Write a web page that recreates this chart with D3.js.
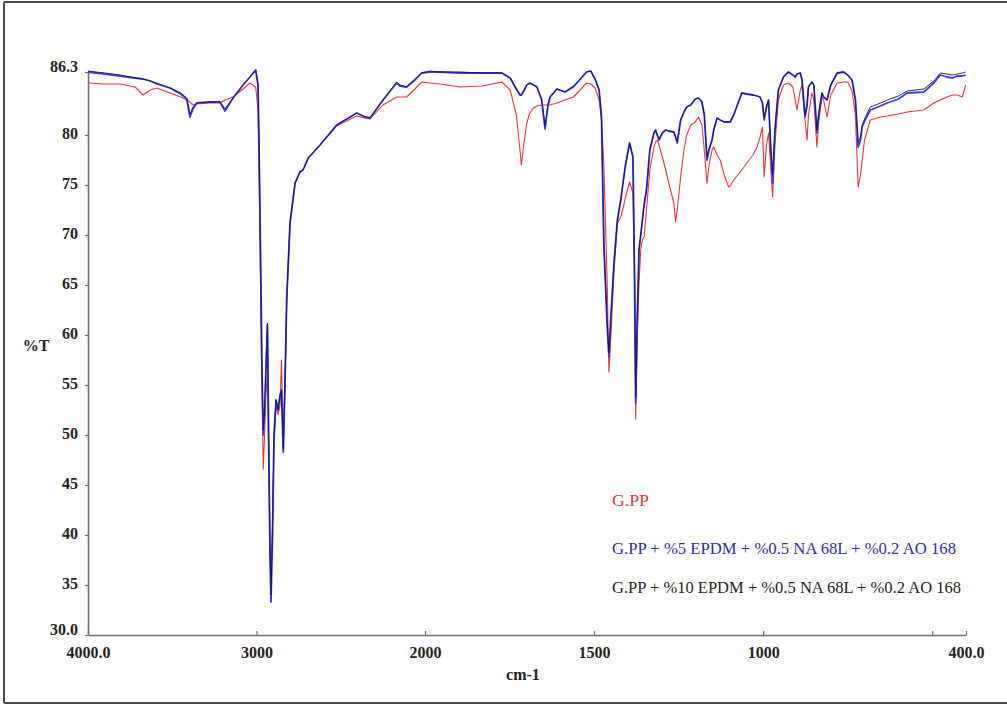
<!DOCTYPE html>
<html>
<head>
<meta charset="utf-8">
<script src="https://cdn.jsdelivr.net/npm/d3@7"></script>
<style>
  html, body { margin: 0; padding: 0; background: #fff; }
  svg { display: block; }
  .tick text { font-family: "Liberation Serif", "Times New Roman", serif; font-weight: bold; font-size: 16px; fill: #222; }
</style>
</head>
<body>
<svg id="chart" width="1007" height="704"></svg>
<script>
// FTIR transmittance spectra (wavenumber in cm-1, %T)
const wavenumbers = [
  4000, 3900, 3810, 3720, 3674, 3630, 3592, 3513, 3450, 3414, 3395, 3377, 3355, 3280, 3217, 3187, 3139, 3080, 3039, 3005,
  2991, 2984, 2976, 2968, 2960, 2952, 2945, 2935, 2928, 2920, 2914, 2905, 2896, 2884, 2872, 2860, 2852, 2841, 2831, 2821,
  2801, 2771, 2742, 2724, 2693, 2623, 2524, 2405, 2356, 2326, 2249, 2168, 2148, 2109, 2060, 2020, 1985, 1956, 1896, 1830,
  1773, 1748, 1730, 1719, 1715, 1708, 1699, 1690, 1679, 1669, 1655, 1645, 1636, 1630, 1610, 1586, 1561, 1522, 1510, 1497,
  1485, 1478, 1471, 1461, 1456, 1450, 1441, 1431, 1421, 1412, 1407, 1395, 1385, 1380, 1377, 1372, 1367, 1362, 1357, 1352,
  1345, 1335, 1323, 1318, 1313, 1308, 1298, 1288, 1279, 1264, 1259, 1254, 1244, 1234, 1226, 1214, 1201, 1191, 1181, 1174,
  1166, 1160, 1151, 1146, 1136, 1127, 1115, 1102, 1097, 1087, 1063, 1048, 1030, 1018, 1009, 1002, 997, 990, 984, 978,
  972, 965, 955, 940, 925, 912, 905, 900, 890, 885, 876, 870, 866, 856, 850, 841, 835, 826, 821, 811,
  800, 781, 762, 750, 737, 727, 719, 712, 707, 700, 683, 653, 633, 600, 574, 525, 495, 476, 456, 440,
  426, 411, 401
];

// G.PP
const gpp = [
  85.2, 85.1, 85.1, 84.8, 84.0, 84.5, 84.7, 84.2, 83.8, 83.5, 83.3, 83.0, 83.1, 83.2, 83.2, 83.5, 83.8, 84.6, 85.2, 84.8,
  82.5, 75.0, 65.0, 55.0, 46.6, 50.0, 54.0, 56.0, 48.0, 39.0, 35.5, 41.0, 49.0, 53.0, 52.0, 53.0, 57.5, 50.0, 55.0, 63.2,
  71.2, 75.2, 76.3, 76.5, 77.7, 79.0, 80.9, 81.9, 81.7, 81.6, 83.0, 83.8, 83.8, 83.8, 84.6, 85.3, 85.2, 85.1, 84.8, 84.9,
  85.3, 84.5, 82.0, 78.5, 77.0, 79.0, 81.2, 82.2, 82.7, 82.9, 83.0, 83.0, 83.0, 83.0, 83.2, 83.5, 83.8, 85.2, 85.1, 84.7,
  83.5, 81.5, 77.0, 65.0, 56.3, 60.0, 66.5, 71.2, 71.8, 73.0, 73.8, 75.3, 74.2, 65.0, 51.6, 60.0, 65.2, 68.5, 69.5, 69.8,
  72.5, 76.5, 78.8, 79.3, 79.5, 79.0, 77.8, 76.5, 75.2, 73.2, 71.3, 72.5, 75.8, 78.5, 80.0, 81.0, 81.3, 81.8, 81.0, 78.5,
  75.2, 77.0, 78.5, 78.8, 78.0, 77.5, 76.0, 74.8, 74.9, 75.5, 76.5, 77.2, 78.0, 78.8, 79.8, 80.8, 75.8, 79.0, 80.2, 77.0,
  73.8, 79.0, 83.5, 85.0, 85.2, 84.8, 83.5, 82.5, 84.5, 85.0, 81.5, 79.5, 82.0, 84.2, 83.5, 78.8, 81.5, 83.8, 83.5, 81.8,
  84.0, 85.2, 85.3, 85.3, 84.4, 82.0, 74.8, 76.0, 77.5, 79.5, 81.5, 81.8, 81.9, 82.1, 82.3, 82.5, 83.2, 83.5, 83.8, 84.0,
  84.0, 83.8, 85.0
];

// G.PP + %5 EPDM + %0.5 NA 68L + %0.2 AO 168
const epdm5 = [
  86.3, 86.1, 85.9, 85.7, 85.6, 85.4, 85.1, 84.7, 84.1, 83.6, 81.8, 82.6, 83.2, 83.3, 83.3, 82.4, 83.7, 85.0, 85.8, 86.5,
  85.0, 78.0, 68.0, 57.0, 50.0, 52.0, 56.0, 61.0, 50.0, 38.0, 33.3, 40.0, 50.0, 53.5, 52.5, 54.0, 54.5, 48.3, 55.0, 63.5,
  71.2, 75.2, 76.3, 76.5, 77.7, 79.0, 81.0, 82.2, 81.8, 81.7, 83.5, 85.2, 84.9, 84.8, 85.5, 86.2, 86.3, 86.3, 86.2, 86.2,
  86.2, 85.7, 84.6, 84.0, 84.0, 84.4, 85.0, 85.2, 85.0, 84.8, 83.5, 80.6, 83.0, 83.8, 84.6, 84.3, 84.8, 86.3, 86.4, 85.6,
  84.5, 81.8, 69.0, 60.8, 57.8, 62.0, 67.2, 71.5, 73.5, 75.8, 77.0, 79.2, 77.8, 65.0, 53.2, 62.0, 68.5, 70.0, 71.5, 73.0,
  74.5, 78.5, 80.2, 80.5, 80.0, 79.5, 80.2, 80.5, 80.4, 80.3, 79.8, 79.2, 81.5, 82.3, 82.8, 83.0, 83.6, 83.7, 83.3, 82.0,
  77.5, 78.5, 79.5, 80.5, 81.7, 81.5, 81.3, 81.3, 81.3, 82.0, 84.2, 84.1, 84.0, 83.9, 83.8, 83.2, 81.5, 82.8, 83.5, 79.0,
  75.2, 80.5, 84.5, 85.8, 86.3, 86.0, 85.8, 86.1, 86.2, 85.5, 81.8, 83.0, 84.8, 85.3, 85.0, 80.2, 82.2, 84.2, 83.8, 83.5,
  85.0, 86.2, 86.3, 86.0, 85.5, 83.5, 78.8, 79.5, 80.8, 81.4, 82.5, 82.9, 83.2, 83.6, 84.2, 84.3, 85.2, 86.0, 85.8, 85.7,
  85.9, 85.9, 86.0
];

// G.PP + %10 EPDM + %0.5 NA 68L + %0.2 AO 168
const epdm10 = [
  86.4, 86.2, 86.0, 85.7, 85.6, 85.4, 85.2, 84.7, 84.2, 83.7, 82.1, 82.8, 83.2, 83.3, 83.3, 82.6, 83.7, 85.0, 85.8, 86.5,
  85.0, 78.0, 68.0, 57.0, 50.5, 52.5, 56.5, 61.2, 50.0, 38.5, 34.0, 40.5, 50.0, 53.5, 52.5, 54.0, 54.5, 48.5, 55.0, 63.5,
  71.2, 75.2, 76.3, 76.5, 77.7, 79.0, 81.0, 82.2, 81.8, 81.7, 83.5, 85.3, 85.0, 84.8, 85.6, 86.2, 86.4, 86.3, 86.3, 86.2,
  86.2, 85.7, 84.6, 84.0, 84.0, 84.4, 85.0, 85.2, 85.0, 84.8, 83.6, 80.9, 83.1, 83.8, 84.6, 84.3, 84.9, 86.3, 86.4, 85.6,
  84.5, 81.8, 69.0, 61.0, 58.2, 62.0, 67.2, 71.5, 73.5, 75.8, 77.0, 79.2, 77.8, 65.5, 53.8, 62.0, 68.5, 70.0, 71.5, 73.0,
  74.5, 78.5, 80.2, 80.5, 80.0, 79.6, 80.2, 80.5, 80.4, 80.3, 79.8, 79.3, 81.5, 82.3, 82.8, 83.0, 83.6, 83.7, 83.3, 82.0,
  77.8, 78.6, 79.5, 80.5, 81.7, 81.5, 81.3, 81.3, 81.4, 82.0, 84.2, 84.1, 84.0, 83.9, 83.8, 83.2, 81.7, 82.8, 83.5, 79.2,
  76.0, 80.5, 84.5, 85.8, 86.3, 86.0, 85.8, 86.1, 86.2, 85.5, 82.0, 83.0, 84.8, 85.3, 85.0, 80.5, 82.2, 84.2, 83.8, 83.5,
  85.0, 86.2, 86.3, 86.0, 85.5, 83.5, 79.3, 79.8, 81.0, 81.6, 82.8, 83.2, 83.5, 83.9, 84.4, 84.6, 85.4, 86.2, 86.1, 86.0,
  86.1, 86.2, 86.3
];

const seriesNames = [
  "G.PP",
  "G.PP + %5 EPDM + %0.5 NA 68L + %0.2 AO 168",
  "G.PP + %10 EPDM + %0.5 NA 68L + %0.2 AO 168"
];

const xTickValues = [4000, 3000, 2000, 1500, 1000, 500, 400];
const xTickLabels = ["4000.0", "3000", "2000", "1500", "1000", "", "400.0"];
const yTickValues = [86.3, 80, 75, 70, 65, 60, 55, 50, 45, 40, 35, 30];
const yTickLabels = ["86.3", "80", "75", "70", "65", "60", "55", "50", "45", "40", "35", "30.0"];

const svg = d3.select("#chart");

// outer frame
const frame = svg.append("g").attr("stroke", "#4a4a4a").attr("stroke-width", 2).attr("fill", "none");
frame.append("line").attr("x1", 4).attr("y1", 2).attr("x2", 1007).attr("y2", 2);
frame.append("line").attr("x1", 4).attr("y1", 2).attr("x2", 4).attr("y2", 703);
frame.append("line").attr("x1", 4).attr("y1", 703).attr("x2", 1007).attr("y2", 703);

// x axis: 4000-2000 compressed, 2000-400 at double scale
const x = d3.scaleLinear().domain([4000, 2000, 400]).range([88, 425, 966]);
const y = d3.scaleLinear().domain([30, 86.3]).range([635, 72]);

const xAxis = d3.axisBottom(x)
  .tickValues(xTickValues)
  .tickFormat((d, i) => xTickLabels[i])
  .tickSize(-4)
  .tickSizeOuter(0)
  .tickPadding(12);

const yAxis = d3.axisLeft(y)
  .tickValues(yTickValues)
  .tickFormat((d, i) => yTickLabels[i])
  .tickSize(3)
  .tickSizeOuter(0)
  .tickPadding(7);

const gx = svg.append("g").attr("transform", `translate(0,${y(30)})`).call(xAxis);
const gy = svg.append("g").attr("transform", `translate(${x(4000)},0)`).call(yAxis);

[gx, gy].forEach(g => {
  g.select(".domain").attr("stroke", "#6e6e6e").attr("stroke-width", 1.6);
  g.selectAll(".tick line").attr("stroke", "#6e6e6e").attr("stroke-width", 1.2);
});
gy.selectAll(".tick text").attr("dy", (d, i) => (i === 0 || i === yTickValues.length - 1) ? "-0.05em" : "0.2em");

// axis titles
svg.append("text")
  .attr("x", 523).attr("y", 680)
  .attr("text-anchor", "middle")
  .attr("font-family", "Liberation Serif, serif")
  .attr("font-weight", "bold").attr("font-size", 16).attr("fill", "#222")
  .text("cm-1");
svg.append("text")
  .attr("x", 36).attr("y", 351)
  .attr("text-anchor", "middle")
  .attr("font-family", "Liberation Serif, serif")
  .attr("font-weight", "bold").attr("font-size", 16).attr("fill", "#222")
  .text("%T");

// spectra
const line = d3.line().x(d => x(d[0])).y(d => y(d[1]));
const pts = vals => wavenumbers.map((w, i) => [w, vals[i]]);

const plot = svg.append("g").attr("fill", "none").attr("stroke-linejoin", "round");
plot.append("path").attr("d", line(pts(gpp))).attr("stroke", "#e8363b").attr("stroke-width", 1.1);
plot.append("path").attr("d", line(pts(epdm5))).attr("stroke", "#3b3bef").attr("stroke-width", 1.8);
plot.append("path").attr("d", line(pts(epdm10))).attr("stroke", "#15154f").attr("stroke-width", 0.9);

// legend
const legendColors = ["#d43a3a", "#2d2f9c", "#1e1e1e"];
const legendY = [506, 554, 593];
const legendWidths = [37, 344, 349];
svg.append("g").selectAll("text")
  .data(seriesNames)
  .join("text")
  .attr("x", 612)
  .attr("y", (d, i) => legendY[i])
  .attr("font-family", "Liberation Serif, serif")
  .attr("font-size", 16)
  .attr("fill", (d, i) => legendColors[i])
  .attr("textLength", (d, i) => legendWidths[i])
  .attr("lengthAdjust", "spacingAndGlyphs")
  .text(d => d);
</script>
</body>
</html>
